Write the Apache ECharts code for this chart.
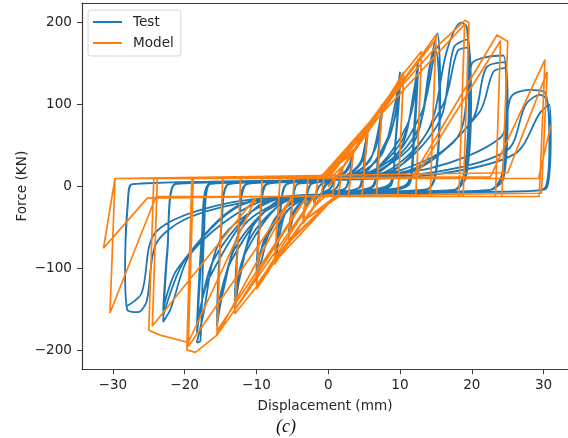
<!DOCTYPE html>
<html><head><meta charset="utf-8">
<script src="https://cdn.jsdelivr.net/npm/echarts@6/dist/echarts.min.js"></script>
<style>html,body{margin:0;padding:0;background:#fff}#c{width:568px;height:438px}</style>
</head><body><div id="c"></div>
<script>
// ---- tick labels ----
const xTicks = [-30, -20, -10, 0, 10, 20, 30];
const yTicks = [-200, -100, 0, 100, 200];
const seriesNames = ['Test', 'Model'];

// ---- Test (measured) hysteresis, by amplitude level: [displacement mm, force kN] ----
const testL1 = [[0,0],[0.5,6],[1,12],[0.6,2],[0.2,-3],[-0.5,-6],[-1,-10],[-0.6,-2],[-0.2,3],[0.5,6],[1,11],[0.5,1],[0,-4],[-0.5,-6],[-1,-9]];
const testL2 = [[-0.6,0],[0,5],[1,9],[1.7,16],[2,22],[1.5,5],[1,-3],[0,-6],[-1,-9],[-1.7,-15],[-2,-20],[-1.5,-4],[-1,3],[0,6],[1,9],[1.8,16],[2,20],[1.5,4],[1,-3],[0,-6],[-1,-9],[-1.8,-14],[-2,-18]];
const testL3 = [[-1.5,-3],[-0.8,4],[0.5,8],[2,15],[3,28],[3.5,45],[3,15],[2.4,-2],[1,-6],[-1,-9],[-2.5,-17],[-3.2,-28],[-3.5,-40],[-3,-12],[-2.4,3],[-1,6],[1,9],[2.5,18],[3.2,30],[3.5,42],[3,12],[2.4,-2],[0,-7],[-2.5,-16],[-3.2,-26],[-3.5,-37]];
const testL4 = [[-3,-10],[-2.4,3],[0,7],[2.5,14],[4.5,30],[5.2,55],[5.5,70],[5,30],[4.4,0],[3,-5],[0,-8],[-2.5,-14],[-4.5,-28],[-5.2,-48],[-5.5,-60],[-4.9,-15],[-4.3,3],[0,7],[3,15],[4.8,32],[5.5,64],[4.9,20],[4.4,-1],[0,-8],[-3,-15],[-4.8,-30],[-5.5,-56]];
const testL5 = [[-4.9,-15],[-4.3,3],[-2,5],[0,8],[3,14],[5.8,32],[7,70],[7.5,100],[7,45],[6.3,2],[4,-5],[0,-8],[-3,-14],[-5.8,-30],[-6.8,-60],[-7.2,-85],[-6.6,-25],[-5.8,3],[0,8],[4,17],[6.5,45],[7.5,92],[6.9,35],[6.3,0],[0,-8],[-4,-17],[-6.5,-40],[-7.2,-78]];
const testL6 = [[-6.6,-22],[-5.8,3],[-3,6],[0,9],[4,15],[7.5,40],[9.3,100],[10,140],[9.4,60],[8.7,5],[5,-5],[0,-9],[-4,-15],[-7.5,-40],[-9.3,-90],[-10,-115],[-9.4,-30],[-8.5,3],[0,9],[5,18],[8.5,60],[10,130],[9.3,50],[8.7,2],[0,-9],[-5,-18],[-8.7,-60],[-10,-108],[-9.4,-28],[-8.6,3],[0,8],[5,16],[8.8,70],[10,122],[9.3,45],[8.7,1],[0,-9],[-5,-17],[-9,-70],[-10,-100]];
const testL7 = [[-9.4,-28],[-8.5,3],[-4,6],[0,9],[5,15],[10,45],[12,120],[12.5,155],[11.9,65],[11.1,5],[6,-5],[0,-9],[-5,-15],[-10,-40],[-12.3,-110],[-13,-150],[-12.3,-35],[-11.3,3],[0,9],[6,18],[10.5,60],[12.5,145],[11.9,55],[11.1,2],[0,-9],[-6,-18],[-11,-65],[-13,-140],[-12.3,-33],[-11.4,3],[0,8],[6,17],[11,75],[12.5,138],[11.9,50],[11.1,1],[0,-9],[-6,-17],[-11.5,-80],[-13,-132]];
const testL8 = [[-12.3,-33],[-11.3,3],[-5,6],[0,9],[6,16],[12,55],[14.2,150],[15.2,187],[15.6,120],[15,20],[13.8,-3],[7,-6],[0,-9],[-6,-16],[-12,-50],[-14.7,-130],[-15.5,-170],[-14.8,-40],[-13.8,3],[0,9],[7,18],[12.5,70],[14.5,160],[15.4,172],[15.6,110],[15,15],[13.8,-3],[0,-9],[-7,-18],[-13,-75],[-15.5,-160],[-14.8,-38],[-13.9,3],[0,9],[7,17],[13,90],[15,165],[15.5,100],[14.9,12],[13.8,-3],[0,-9],[-7,-17],[-13.5,-90],[-15.5,-152]];
const testL9 = [[-14.8,-40],[-13.8,3],[-7,6],[0,9],[8,18],[14,70],[16.5,165],[18.5,200],[19.3,195],[19.6,120],[19,20],[17.5,-4],[9,-6],[0,-9],[-8,-18],[-15,-65],[-17.5,-160],[-18.3,-190],[-17.8,-188],[-17.3,-60],[-16.5,3],[-8,6],[0,9],[9,20],[15.5,80],[17.5,170],[19.5,180],[19.8,110],[19.1,15],[17.5,-4],[0,-9],[-9,-20],[-16,-90],[-18.3,-178],[-17.4,-55],[-16.6,3],[0,9],[9,19],[16,100],[18,165],[19.6,170],[19.9,100],[19.2,12],[17.5,-4],[0,-9],[-9,-19],[-16.5,-110],[-18.3,-170]];
const testL10 = [[-17.6,-60],[-16.6,3],[-8,6],[0,10],[10,20],[18,60],[20,150],[22,158],[24.4,160],[24.8,110],[24.2,15],[22.5,-4],[11,-7],[0,-10],[-10,-20],[-19,-80],[-22,-150],[-23,-165],[-22.4,-80],[-21.3,3],[-10,6],[0,10],[12,22],[20,80],[22,145],[24.6,152],[24.9,100],[24.3,12],[22.5,-4],[0,-10],[-12,-22],[-20,-90],[-23,-158],[-22.4,-75],[-21.4,3],[0,9],[12,20],[21,90],[23,140],[24.8,145],[25,90],[24.4,10],[22.5,-4],[0,-10],[-12,-21],[-21,-100],[-23,-150]];
const testL11 = [[-22.4,-75],[-21.3,3],[-10,6],[0,10],[14,22],[24,60],[25.5,110],[28,118],[30,116],[30.6,100],[30.8,50],[30.3,0],[28.5,-5],[14,-7],[0,-10],[-12,-20],[-20,-40],[-24,-70],[-25.3,-140],[-26.5,-153],[-28,-150],[-28.3,-100],[-27.9,-20],[-27.3,3],[-14,6],[0,9],[15,18],[25,45],[27.5,100],[29.5,112],[30.5,105],[30.9,40],[30.4,-2],[28.5,-5],[0,-10],[-14,-20],[-24,-55],[-26,-130],[-28,-145],[-28.3,-90],[-27.9,-15],[-27.3,3],[0,8],[15,15],[26,40],[29.5,90],[30.8,100],[31,60],[30.5,0],[28.5,-5],[0,-9]];

// ---- Model (numerical) hysteresis, by amplitude level ----
const modelA = [[0,0],[1,12],[0.6,-10],[-0.3,-10],[-1,-12],[-0.6,10],[0.3,10],[2,25],[1.4,-12],[-0.5,-12],[-2,-25],[-1.4,10],[-0.5,10],[3.5,45],[2.8,-12],[-1,-12],[-3.5,-45],[-2.8,10],[-1,10],[3.5,42],[2.8,-12],[1,-12],[-3.5,-42]];
const modelB = [[-2.8,10],[-1.5,10],[3.5,42],[5.5,72],[4.7,-12],[1.5,-12],[-3.5,-42],[-5.5,-70],[-4.7,10],[-1,10],[5.5,68],[4.7,-12],[1,-12],[-5.5,-66],[-4.7,10],[-1,10],[5.5,70],[7.5,100],[6.7,-12],[1,-12],[-5.5,-68],[-7.5,-95],[-6.7,10],[-1,10],[7.5,96],[6.7,-12],[1,-12],[-7.5,-92]];
const modelC = [[-6.7,10],[0,10],[7.5,95],[10.5,140],[9.7,-12],[-1,-12],[-7.5,-92],[-10,-125],[-9.2,10],[0,10],[10.5,135],[9.7,-12],[-1,-12],[-10,-120],[-9.2,10],[1,10],[10.5,138],[13,165],[12.2,-12],[-2,-12],[-10,-122],[-13,-155],[-12.2,10],[1,10],[13,160],[12.2,-12],[-2,-12],[-13,-150]];
const modelD = [[-12.2,10],[0,10],[13,160],[15,185],[14.2,-12],[-3,-12],[-13,-150],[-15.5,-181],[-14.7,10],[0,10],[15,180],[14.2,-12],[-3,-12],[-15.5,-176],[-14.7,10],[-1,12],[15,170],[19.1,203],[19.6,200],[18.8,-12],[-5,-12],[-15.5,-181],[-18.5,-202],[-19.7,-199],[-19,10],[-1,10],[19,198],[18.2,-12],[-5,-12],[-19.5,-195]];
const modelE = [[-18.8,10],[11.6,10],[23.5,185],[25,177],[24.2,-12],[-10,-12],[-19.5,-190],[-23.4,-181],[-25,-175],[-24.3,10],[12,10],[24,178],[23.3,-12],[-10,-12],[-24.5,-170]];
const modelF = [[-23.8,10],[22.6,12],[30.2,155],[29.4,-12],[-24,-12],[-30.4,-154],[-29.7,10],[25,17],[30.5,140],[29.7,-8],[-25.2,-14],[-31.3,-75],[-29.7,10],[29.3,10],[31,75]];

const testData = [].concat(testL1,testL2,testL3,testL4,testL5,testL6,testL7,testL8,testL9,testL10,testL11);
const modelData = [].concat(modelA,modelB,modelC,modelD,modelE,modelF);

const chart = echarts.init(document.getElementById('c'), null, {renderer:'canvas'});
const axisCol = '#3a3a3a';
const FS = 13.6;
const lblStyle = {color:'#262626', fontSize:FS, fontFamily:'DejaVu Sans'};
chart.setOption({
  animation:false,
  backgroundColor:'#fff',
  grid:{left:82, top:3, right:0, bottom:68.7, containLabel:false},
  legend:{
    orient:'vertical', left:88, top:10,
    data:[{name:'Test',icon:'rect'},{name:'Model',icon:'rect'}],
    itemWidth:29, itemHeight:2, itemGap:7,
    padding:[5,7,6,5],
    backgroundColor:'#fff', borderColor:'#d6d6d6', borderWidth:1, borderRadius:3,
    textStyle:{color:'#262626', fontSize:FS, fontFamily:'DejaVu Sans', padding:[0,0,0,6]}
  },
  xAxis:[{
    type:'value', min:-34.3, max:33.4, position:'bottom',
    name:'Displacement (mm)', nameLocation:'middle', nameGap:30,
    nameTextStyle:{color:'#262626', fontSize:FS, fontFamily:'DejaVu Sans'},
    axisLine:{show:true, onZero:false, lineStyle:{color:axisCol, width:1.2}},
    axisTick:{show:true, customValues:xTicks, length:5, lineStyle:{color:axisCol}},
    axisLabel:{customValues:xTicks, margin:9, ...lblStyle, formatter:v=>String(v).replace('-','\u2212')},
    splitLine:{show:false}
  },{
    type:'value', min:-34.3, max:33.4, position:'top',
    axisLine:{show:true, onZero:false, lineStyle:{color:axisCol, width:1.2}},
    axisTick:{show:false}, axisLabel:{show:false}, splitLine:{show:false}
  }],
  yAxis:{
    type:'value', min:-222.7, max:224,
    name:'Force (KN)', nameLocation:'middle', nameGap:53, nameRotate:90, nameMoveOverlap:false,
    nameTextStyle:{color:'#262626', fontSize:FS, fontFamily:'DejaVu Sans'},
    axisLine:{show:true, onZero:false, lineStyle:{color:axisCol, width:1.2}},
    axisTick:{show:true, customValues:yTicks, length:5, lineStyle:{color:axisCol}},
    axisLabel:{customValues:yTicks, margin:10, ...lblStyle, formatter:v=>String(v).replace('-','\u2212')},
    splitLine:{show:false}
  },
  series:[
    {name:seriesNames[0], type:'line', data:testData, showSymbol:false, symbol:'none', smooth:0.3,
     lineStyle:{color:'#1f77b4', width:1.8}, itemStyle:{color:'#1f77b4'}, clip:true, z:2},
    {name:seriesNames[1], type:'line', data:modelData, showSymbol:false, symbol:'none',
     lineStyle:{color:'#ff7f0e', width:1.7}, itemStyle:{color:'#ff7f0e'}, clip:true, z:3}
  ],
  graphic:[{type:'text', left:276, top:418,
    style:{text:'(c)', font:'italic 18px "Liberation Serif", serif', fill:'#111'}}]
});
</script></body></html>
